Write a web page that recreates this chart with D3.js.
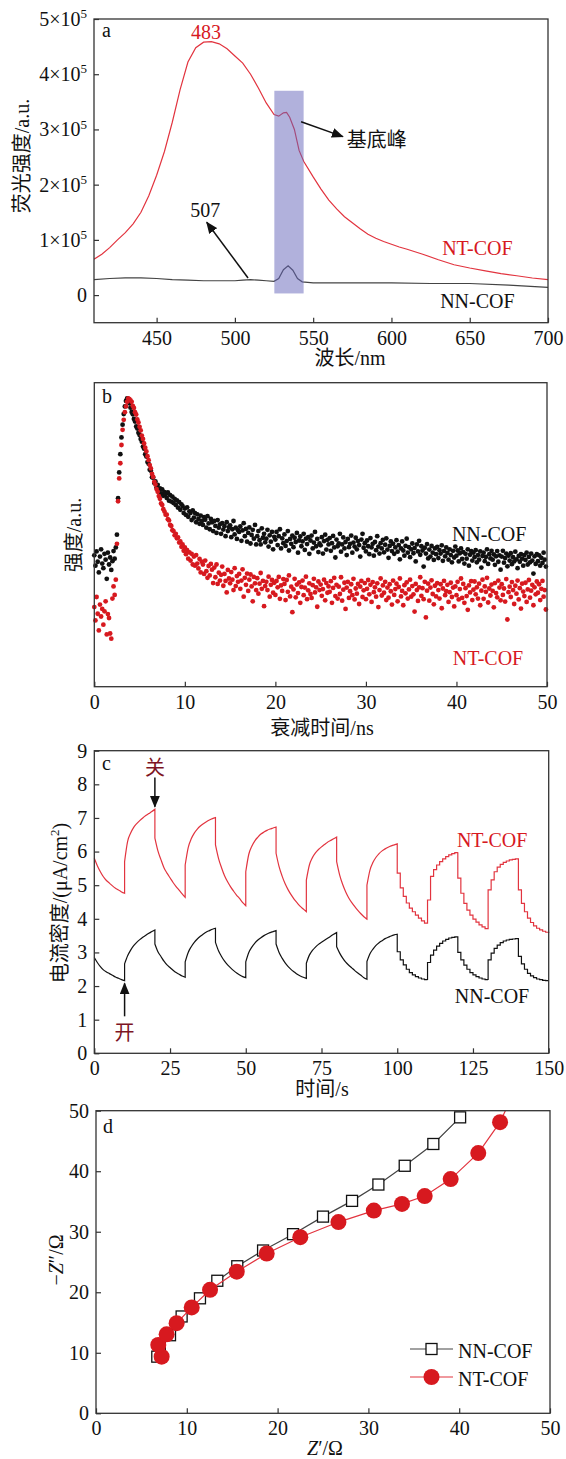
<!DOCTYPE html>
<html>
<head>
<meta charset="utf-8">
<script src="https://cdn.jsdelivr.net/npm/d3@7"></script>
<style>
  body { margin: 0; background: #fff; }
  svg text { font-family: "Liberation Serif", "Times New Roman", "Noto Sans CJK SC", serif; }
</style>
</head>
<body>
<svg id="chart" width="566" height="1459"></svg>
<script>
// ---------- panel a: fluorescence spectra (intensity in 1e5 a.u.) ----------
const ntWave = [410, 415, 420, 425, 430, 435, 440, 445, 450, 455, 460, 465, 470, 475, 480, 485, 490, 495,
  500, 505, 510, 515, 520, 525, 528, 531, 533, 535, 538, 541, 544, 550, 555, 560, 565, 570, 575, 580,
  585, 590, 595, 600, 605, 610, 620, 630, 640, 650, 660, 670, 680, 690, 700];
const ntPL = [0.65, 0.74, 0.86, 1.00, 1.13, 1.29, 1.50, 1.80, 2.17, 2.60, 3.13, 3.72, 4.22, 4.48, 4.58, 4.59, 4.55, 4.46,
  4.33, 4.20, 4.00, 3.75, 3.48, 3.27, 3.24, 3.30, 3.31, 3.22, 3.00, 2.62, 2.42, 2.14, 1.92, 1.72, 1.56, 1.42, 1.31, 1.20,
  1.10, 1.03, 0.97, 0.92, 0.87, 0.83, 0.74, 0.64, 0.55, 0.49, 0.44, 0.39, 0.35, 0.31, 0.28];
const nnWave = [410, 420, 430, 440, 450, 460, 470, 480, 490, 500, 505, 510, 515, 520, 525, 528, 531, 534,
  537, 540, 543, 550, 575, 600, 625, 650, 675, 700];
const nnPL = [0.28, 0.30, 0.31, 0.31, 0.30, 0.28, 0.27, 0.26, 0.26, 0.26, 0.27, 0.28, 0.27, 0.26, 0.25, 0.30, 0.46, 0.53,
  0.45, 0.30, 0.24, 0.22, 0.22, 0.22, 0.21, 0.21, 0.18, 0.14];
const plTicksX = [450, 500, 550, 600, 650, 700];
const plTicksY = [0, 1, 2, 3, 4, 5];
const substrateBand = [525.2, 543.9];
const substrateLevel = [0.03, 3.7];

// ---------- panel b: decay curves (relative height, step 0.125 ns) ----------
const decayStep = 0.125;
const decayTicks = [0, 10, 20, 30, 40, 50];
const nnDecay = [
  432, 398, 445, 411, 376, 428, 452, 405, 390, 437, 418, 355, 441, 402, 425, 384,
  413, 446, 421, 458, 500, 620, 705, 765, 820, 862, 897, 922, 940, 948, 944, 932,
  918, 904, 896, 881, 872, 856, 849, 835, 828, 815, 806, 790, 783, 765, 757, 739,
  733, 714, 710, 689, 688, 670, 675, 655, 664, 647, 652, 636, 649, 628, 640, 633,
  621, 639, 612, 630, 609, 625, 604, 618, 598, 613, 589, 607, 582, 600, 594, 571,
  586, 565, 590, 559, 577, 571, 548, 580, 556, 571, 541, 567, 552, 536, 563, 545,
  532, 558, 549, 523, 561, 537, 518, 552, 541, 512, 545, 529, 506, 548, 523, 534,
  503, 538, 517, 528, 495, 541, 512, 524, 531, 492, 518, 545, 501, 523, 486, 515,
  509, 527, 480, 514, 538, 495, 519, 477, 506, 524, 471, 499, 516, 487, 532, 468,
  495, 512, 482, 468, 521, 490, 503, 475, 487, 516, 461, 498, 477, 509, 452, 493,
  484, 509, 466, 495, 518, 455, 488, 472, 501, 463, 479, 512, 448, 486, 470, 497,
  459, 490, 476, 506, 441, 481, 494, 462, 478, 503, 450, 487, 469, 492, 437, 481,
  497, 455, 474, 509, 462, 486, 443, 471, 465, 492, 438, 479, 500, 451, 483, 468,
  489, 447, 472, 496, 458, 425, 484, 462, 471, 503, 444, 468, 491, 455, 476, 433,
  486, 459, 470, 497, 441, 474, 461, 490, 452, 479, 466, 428, 484, 503, 457, 472,
  445, 481, 462, 436, 489, 458, 470, 431, 476, 449, 495, 461, 438, 472, 455, 483,
  442, 467, 488, 451, 424, 463, 478, 446, 470, 437, 458, 482, 444, 466, 419, 455,
  478, 448, 431, 463, 487, 441, 459, 426, 452, 471, 439, 456, 412, 468, 445, 480,
  434, 462, 448, 395, 457, 438, 469, 422, 451, 428, 463, 441, 417, 455, 436, 460,
  423, 449, 438, 465, 414, 446, 429, 458, 440, 418, 452, 433, 409, 447, 425, 461,
  431, 448, 412, 439, 455, 420, 443, 405, 437, 421, 452, 398, 434, 446, 415, 441,
  426, 449, 409, 433, 418, 445, 392, 430, 441, 413, 427, 452, 404, 436, 422, 447,
  418, 435, 401, 429, 446, 411, 432, 385, 428, 447, 408, 423, 438, 396, 431, 415,
  439, 403, 426, 412, 444, 419, 390, 430, 411, 436, 421, 398, 433, 417, 441, 402,
  427, 409, 438, 415, 372, 429, 404, 436, 413, 432, 398, 424, 407, 441, 418, 395
];
const ntDecay = [
  262, 218, 295, 240, 185, 270, 231, 256, 204, 248, 281, 172, 239, 226, 175, 158,
  290, 330, 302, 352, 470, 610, 685, 735, 795, 845, 878, 903, 922, 937, 948, 946,
  942, 937, 924, 917, 903, 895, 879, 869, 855, 843, 826, 815, 800, 786, 774, 758,
  745, 729, 718, 700, 690, 674, 665, 650, 641, 627, 618, 603, 598, 584, 576, 566,
  566, 551, 547, 532, 529, 515, 512, 498, 503, 488, 491, 474, 478, 460, 468, 447,
  458, 436, 449, 421, 442, 415, 437, 402, 428, 398, 433, 405, 389, 420, 376, 411,
  402, 371, 415, 380, 358, 397, 366, 404, 385, 341, 392, 360, 402, 338, 375, 349,
  368, 395, 332, 371, 348, 310, 384, 356, 340, 377, 352, 318, 390, 331, 364, 345,
  371, 322, 349, 386, 296, 358, 335, 372, 315, 352, 369, 330, 281, 361, 340, 318,
  357, 306, 339, 374, 322, 348, 265, 331, 345, 318, 362, 296, 335, 351, 309, 342,
  302, 348, 327, 361, 289, 333, 315, 354, 338, 285, 351, 312, 366, 297, 329, 245,
  320, 355, 294, 336, 308, 343, 276, 328, 349, 301, 326, 362, 288, 317, 340, 305,
  292, 334, 355, 310, 327, 263, 346, 318, 336, 299, 321, 352, 284, 341, 309, 330,
  312, 347, 276, 325, 358, 298, 335, 290, 329, 305, 360, 283, 319, 342, 256, 326,
  345, 292, 314, 337, 301, 355, 287, 323, 306, 338, 272, 329, 348, 295, 317, 341,
  288, 322, 351, 304, 335, 279, 344, 311, 327, 296, 340, 262, 318, 356, 300, 333,
  309, 345, 285, 326, 293, 337, 314, 270, 349, 302, 321, 339, 281, 328, 356, 297,
  315, 268, 334, 307, 343, 290, 320, 352, 296, 331, 304, 247, 338, 318, 282, 327,
  360, 299, 324, 288, 345, 228, 316, 339, 283, 326, 350, 305, 271, 332, 297, 341,
  318, 290, 337, 258, 323, 348, 301, 314, 335, 279, 311, 342, 295, 326, 264, 330,
  301, 345, 287, 321, 356, 292, 338, 276, 324, 298, 253, 333, 310, 347, 285, 319,
  346, 304, 327, 290, 339, 268, 316, 352, 289, 330, 312, 358, 277, 323, 300, 336,
  315, 261, 341, 308, 294, 349, 326, 284, 337, 302, 323, 280, 354, 221, 311, 329,
  295, 344, 318, 272, 332, 306, 349, 287, 324, 257, 339, 313, 298, 342, 279, 320,
  351, 293, 316, 335, 268, 327, 304, 346, 309, 337, 285, 322, 348, 296, 318, 254
];

// ---------- panel c: photocurrent, one row per 10 s half-cycle, 1 s samples ----------
const currentTicksX = [0, 25, 50, 75, 100, 125, 150];
const currentTicksY = [0, 1, 2, 3, 4, 5, 6, 7, 8, 9];
const ntCurrent = [
  [5.80, 5.58, 5.40, 5.25, 5.14, 5.06, 4.98, 4.91, 4.86, 4.80, 4.76],
  [5.70, 6.30, 6.55, 6.72, 6.83, 6.92, 7.00, 7.07, 7.13, 7.19, 7.26],
  [6.40, 6.02, 5.76, 5.52, 5.36, 5.22, 5.08, 4.96, 4.85, 4.74, 4.64],
  [5.60, 6.12, 6.38, 6.55, 6.67, 6.76, 6.83, 6.89, 6.94, 6.98, 7.01],
  [6.20, 5.80, 5.52, 5.28, 5.10, 4.95, 4.82, 4.70, 4.60, 4.48, 4.39],
  [5.40, 5.92, 6.16, 6.32, 6.43, 6.52, 6.58, 6.63, 6.67, 6.70, 6.73],
  [5.95, 5.55, 5.27, 5.04, 4.86, 4.71, 4.58, 4.47, 4.37, 4.29, 4.21],
  [5.15, 5.60, 5.82, 5.96, 6.06, 6.14, 6.21, 6.28, 6.33, 6.38, 6.43],
  [5.70, 5.30, 5.02, 4.80, 4.62, 4.48, 4.36, 4.25, 4.15, 4.06, 3.99],
  [5.00, 5.45, 5.68, 5.83, 5.94, 6.02, 6.08, 6.13, 6.17, 6.20, 6.23],
  [5.36, 4.92, 4.67, 4.47, 4.32, 4.21, 4.11, 4.02, 3.94, 3.87, 3.87],
  [4.56, 5.26, 5.46, 5.60, 5.70, 5.78, 5.85, 5.90, 5.94, 5.97, 5.98],
  [5.21, 4.76, 4.46, 4.26, 4.11, 3.99, 3.90, 3.82, 3.76, 3.71, 3.69],
  [4.86, 5.16, 5.40, 5.54, 5.62, 5.68, 5.72, 5.75, 5.77, 5.78, 5.78],
  [4.86, 4.46, 4.21, 4.02, 3.89, 3.79, 3.72, 3.67, 3.63, 3.60, 3.58]
];
const nnCurrent = [
  [2.85, 2.70, 2.58, 2.48, 2.42, 2.37, 2.32, 2.27, 2.23, 2.19, 2.16],
  [2.66, 2.90, 3.07, 3.20, 3.30, 3.38, 3.45, 3.51, 3.57, 3.62, 3.67],
  [3.25, 3.02, 2.88, 2.74, 2.63, 2.55, 2.47, 2.40, 2.35, 2.30, 2.26],
  [2.72, 3.00, 3.17, 3.30, 3.40, 3.48, 3.55, 3.61, 3.65, 3.69, 3.72],
  [3.30, 3.05, 2.88, 2.74, 2.63, 2.54, 2.46, 2.39, 2.33, 2.28, 2.25],
  [2.72, 3.00, 3.16, 3.28, 3.37, 3.44, 3.50, 3.55, 3.59, 3.62, 3.65],
  [3.25, 3.00, 2.83, 2.69, 2.58, 2.49, 2.42, 2.35, 2.30, 2.26, 2.23],
  [2.68, 2.92, 3.06, 3.16, 3.24, 3.30, 3.36, 3.42, 3.48, 3.54, 3.59],
  [3.17, 2.98, 2.83, 2.71, 2.62, 2.54, 2.46, 2.39, 2.32, 2.25, 2.20],
  [2.73, 2.96, 3.10, 3.21, 3.29, 3.35, 3.41, 3.45, 3.49, 3.52, 3.54],
  [3.02, 2.78, 2.63, 2.50, 2.40, 2.33, 2.28, 2.24, 2.21, 2.19, 2.18],
  [2.70, 2.92, 3.07, 3.19, 3.27, 3.34, 3.39, 3.43, 3.45, 3.46, 3.46],
  [3.00, 2.78, 2.62, 2.50, 2.40, 2.33, 2.28, 2.24, 2.21, 2.19, 2.18],
  [2.78, 2.98, 3.12, 3.22, 3.29, 3.34, 3.37, 3.39, 3.40, 3.41, 3.41],
  [2.88, 2.66, 2.50, 2.38, 2.30, 2.25, 2.21, 2.19, 2.17, 2.16, 2.16]
];

// ---------- panel d: Nyquist plot ----------
const eisTicks = [0, 10, 20, 30, 40, 50];
const nnZre = [6.75, 7.03, 8.15, 9.43, 11.45, 13.36, 15.56, 18.4, 21.7, 25.0, 28.2, 31.1, 34.0, 37.15, 40.1];
const nnZim = [9.36, 11.3, 12.9, 16.0, 19.0, 21.9, 24.3, 26.9, 29.6, 32.5, 35.1, 37.8, 40.9, 44.5, 48.9];
const ntZre = [7.23, 6.86, 7.78, 8.88, 10.54, 12.56, 15.5, 18.8, 22.5, 26.7, 30.6, 33.7, 36.2, 39.06, 42.1, 44.5, 45.7];
const ntZim = [9.36, 11.3, 13.05, 14.9, 17.5, 20.4, 23.4, 26.4, 29.1, 31.6, 33.5, 34.6, 35.9, 38.7, 43.0, 48.1, 52.0];

const FONT = '"Liberation Serif", "Times New Roman", "Noto Sans CJK SC", serif';
const AXIS = '#333';
const LINE_RED = '#e2343f';
const DOT_RED = '#d7191f';
const DARK_RED = '#7d1424';
const INK = '#111';

const svg = d3.select('#chart').attr('font-family', FONT);
const defs = svg.append('defs');
defs.append('marker')
  .attr('id', 'head')
  .attr('viewBox', '0 0 12 10')
  .attr('refX', 11).attr('refY', 5)
  .attr('markerWidth', 12).attr('markerHeight', 10)
  .attr('markerUnits', 'userSpaceOnUse')
  .attr('orient', 'auto')
  .append('path').attr('d', 'M0,0L12,5L0,10z').attr('fill', INK);

function clip(id, box) {
  defs.append('clipPath').attr('id', id)
    .append('rect').attr('x', box.l).attr('y', box.t).attr('width', box.r - box.l).attr('height', box.b - box.t);
  return `url(#${id})`;
}

function frame(box, x, y, xTicks, yTicks) {
  const g = svg.append('g');
  const ax = g.append('g')
    .attr('transform', `translate(0,${box.b})`)
    .call(d3.axisBottom(x).tickValues(xTicks).tickSizeInner(-5).tickSizeOuter(0).tickPadding(8));
  ax.select('.domain').remove();
  let ay = null;
  if (yTicks) {
    ay = g.append('g')
      .attr('transform', `translate(${box.l},0)`)
      .call(d3.axisLeft(y).tickValues(yTicks).tickSizeInner(-5).tickSizeOuter(0).tickPadding(7));
    ay.select('.domain').remove();
  }
  g.selectAll('g').attr('font-size', 20).attr('font-family', FONT);
  g.selectAll('.tick line').attr('stroke', AXIS).attr('stroke-width', 1.2);
  g.selectAll('.tick text').attr('fill', INK);
  g.append('rect')
    .attr('x', box.l).attr('y', box.t)
    .attr('width', box.r - box.l).attr('height', box.b - box.t)
    .attr('fill', 'none').attr('stroke', AXIS).attr('stroke-width', 1.3);
  return { g, ax, ay };
}

function label(x, y, str, opts = {}) {
  return svg.append('text')
    .attr('x', x).attr('y', y)
    .attr('font-size', opts.size || 20)
    .attr('fill', opts.color || INK)
    .attr('text-anchor', opts.anchor || 'start')
    .text(str);
}

function yLabel(cx, cy, str) {
  return svg.append('text')
    .attr('transform', `translate(${cx},${cy}) rotate(-90)`)
    .attr('text-anchor', 'middle')
    .attr('dy', '0.35em')
    .attr('font-size', 20)
    .attr('fill', INK)
    .text(str);
}

function arrow(x1, y1, x2, y2) {
  svg.append('line')
    .attr('x1', x1).attr('y1', y1).attr('x2', x2).attr('y2', y2)
    .attr('stroke', INK).attr('stroke-width', 1.5)
    .attr('marker-end', 'url(#head)');
}

// ================= a =================
{
  const box = { l: 94, r: 548, t: 19, b: 322.7 };
  const x = d3.scaleLinear().domain([410, 700]).range([box.l, box.r]);
  const y = d3.scaleLinear().domain([-0.5, 5]).range([box.b, box.t]);
  const cp = clip('clipA', box);
  const line = d3.line().x(d => x(d[0])).y(d => y(d[1]));

  svg.append('path')
    .attr('d', line(nnWave.map((w, i) => [w, nnPL[i]])))
    .attr('clip-path', cp)
    .attr('fill', 'none').attr('stroke', '#444').attr('stroke-width', 1.2);
  svg.append('path')
    .attr('d', line(ntWave.map((w, i) => [w, ntPL[i]])))
    .attr('clip-path', cp)
    .attr('fill', 'none').attr('stroke', LINE_RED).attr('stroke-width', 1.2);

  // substrate band drawn over the curves
  svg.append('rect')
    .attr('x', x(substrateBand[0])).attr('y', y(substrateLevel[1]))
    .attr('width', x(substrateBand[1]) - x(substrateBand[0]))
    .attr('height', y(substrateLevel[0]) - y(substrateLevel[1]))
    .attr('fill', '#6464b9').attr('fill-opacity', 0.5);

  const f = frame(box, x, y, plTicksX, plTicksY);
  f.ay.selectAll('.tick text').each(function (v) {
    const t = d3.select(this).text(v === 0 ? '0' : `${v}×10`);
    if (v !== 0) t.append('tspan').attr('font-size', 13).attr('dy', '-0.6em').text('5');
  });

  label(102, 37, 'a');
  label(x(481.6), y(4.64), '483', { anchor: 'middle', color: DOT_RED });
  label(x(481), y(1.42), '507', { anchor: 'middle' });
  arrow(x(508.4), y(0.31), x(482), y(1.32));
  arrow(x(542.3), y(3.14), x(569), y(2.87));
  label(x(571.5), y(2.68), '基底峰');
  label(x(632.4), y(0.72), 'NT-COF', { color: DOT_RED });
  label(x(631.1), y(-0.24), 'NN-COF');
  label(350, 365, '波长/nm', { anchor: 'middle' });
  yLabel(22, 156, '荧光强度/a.u.');
}

// ================= b =================
{
  const box = { l: 94.3, r: 547, t: 382.7, b: 686.7 };
  const x = d3.scaleLinear().domain([0, 50]).range([box.l, box.r]);
  const y = d3.scaleLinear().domain([0, 1000]).range([box.b, box.t]);

  const series = [
    { values: nnDecay, color: INK },
    { values: ntDecay, color: DOT_RED }
  ];
  series.forEach(s => {
    svg.append('g')
      .selectAll('circle')
      .data(s.values)
      .enter()
      .append('circle')
      .attr('cx', (d, i) => x(i * decayStep))
      .attr('cy', d => y(d))
      .attr('r', 2.4)
      .attr('fill', s.color);
  });

  frame(box, x, y, decayTicks, null);
  label(102, 403, 'b');
  label(x(39.5), y(479), 'NN-COF');
  label(x(39.6), y(71), 'NT-COF', { color: DOT_RED });
  label(322, 735, '衰减时间/ns', { anchor: 'middle' });
  yLabel(74, 535, '强度/a.u.');
}

// ================= c =================
{
  const box = { l: 94.3, r: 548.7, t: 750.7, b: 1053.3 };
  const x = d3.scaleLinear().domain([0, 150]).range([box.l, box.r]);
  const y = d3.scaleLinear().domain([0, 9]).range([box.b, box.t]);

  // smooth half-cycles before 100 s, stepped (coarser logging) afterwards
  const cyclePath = segments => {
    let d = '';
    segments.forEach((vals, k) => {
      const t0 = k * 10;
      const gen = d3.line()
        .x(p => x(p[0])).y(p => y(p[1]))
        .curve(t0 < 100 ? d3.curveMonotoneX : d3.curveStepAfter);
      const s = gen(vals.map((v, i) => [t0 + i, v]));
      d += k === 0 ? s : 'L' + s.slice(1);
    });
    return d;
  };

  svg.append('path').attr('d', cyclePath(nnCurrent))
    .attr('fill', 'none').attr('stroke', INK).attr('stroke-width', 1.2);
  svg.append('path').attr('d', cyclePath(ntCurrent))
    .attr('fill', 'none').attr('stroke', LINE_RED).attr('stroke-width', 1.2);

  frame(box, x, y, currentTicksX, currentTicksY);
  label(102, 770, 'c');
  label(x(20), y(8.28), '关', { anchor: 'middle', color: DARK_RED });
  arrow(x(20), y(8.2), x(20), y(7.33));
  label(x(10), y(0.4), '开', { anchor: 'middle', color: DARK_RED });
  arrow(x(10), y(1.1), x(10), y(2.08));
  label(x(119.7), y(6.14), 'NT-COF', { color: DOT_RED });
  label(x(119), y(1.5), 'NN-COF');
  label(322, 1096, '时间/s', { anchor: 'middle' });
  const yl = yLabel(60, 903, '电流密度/(μA/cm');
  yl.append('tspan').attr('font-size', 13).attr('dy', '-0.6em').text('2');
  yl.append('tspan').attr('dy', '0.4em').text(')');
}

// ================= d =================
{
  const box = { l: 96, r: 550, t: 1110.7, b: 1413.3 };
  const x = d3.scaleLinear().domain([0, 50]).range([box.l, box.r]);
  const y = d3.scaleLinear().domain([0, 50]).range([box.b, box.t]);
  const cp = clip('clipD', box);
  const line = d3.line().x(d => x(d[0])).y(d => y(d[1]));

  const nn = nnZre.map((v, i) => [v, nnZim[i]]);
  const nt = ntZre.map((v, i) => [v, ntZim[i]]);

  const gNN = svg.append('g').attr('clip-path', cp);
  gNN.append('path').attr('d', line(nn))
    .attr('fill', 'none').attr('stroke', '#444').attr('stroke-width', 1.2);
  gNN.selectAll('rect').data(nn).enter().append('rect')
    .attr('x', d => x(d[0]) - 5.5).attr('y', d => y(d[1]) - 5.5)
    .attr('width', 11).attr('height', 11)
    .attr('fill', '#fff').attr('stroke', INK).attr('stroke-width', 1.3);

  const gNT = svg.append('g').attr('clip-path', cp);
  gNT.append('path').attr('d', line(nt))
    .attr('fill', 'none').attr('stroke', LINE_RED).attr('stroke-width', 1.2);
  gNT.selectAll('circle').data(nt).enter().append('circle')
    .attr('cx', d => x(d[0])).attr('cy', d => y(d[1]))
    .attr('r', 8).attr('fill', DOT_RED);

  frame(box, x, y, eisTicks, eisTicks);
  label(103, 1133, 'd');

  // legend
  const lg = svg.append('g').attr('transform', 'translate(410,1349)');
  lg.append('line').attr('x1', 0).attr('x2', 43).attr('stroke', '#444').attr('stroke-width', 1.2);
  lg.append('rect').attr('x', 16).attr('y', -5.5).attr('width', 11).attr('height', 11)
    .attr('fill', '#fff').attr('stroke', INK).attr('stroke-width', 1.3);
  lg.append('text').attr('x', 48).attr('y', 9).attr('font-size', 20).attr('fill', INK).text('NN-COF');
  lg.append('line').attr('x1', 0).attr('x2', 43).attr('y1', 28).attr('y2', 28)
    .attr('stroke', LINE_RED).attr('stroke-width', 1.2);
  lg.append('circle').attr('cx', 21.5).attr('cy', 28).attr('r', 8).attr('fill', DOT_RED);
  lg.append('text').attr('x', 48).attr('y', 37).attr('font-size', 20).attr('fill', INK).text('NT-COF');

  const xl = svg.append('text').attr('x', 325).attr('y', 1455)
    .attr('text-anchor', 'middle').attr('font-size', 20).attr('fill', INK);
  xl.append('tspan').attr('font-style', 'italic').text('Z');
  xl.append('tspan').text('′/Ω');

  const yl = svg.append('text')
    .attr('transform', 'translate(56,1260) rotate(-90)')
    .attr('text-anchor', 'middle').attr('dy', '0.35em').attr('font-size', 20).attr('fill', INK);
  yl.append('tspan').text('−');
  yl.append('tspan').attr('font-style', 'italic').text('Z');
  yl.append('tspan').text('″/Ω');
}
</script>
</body>
</html>
